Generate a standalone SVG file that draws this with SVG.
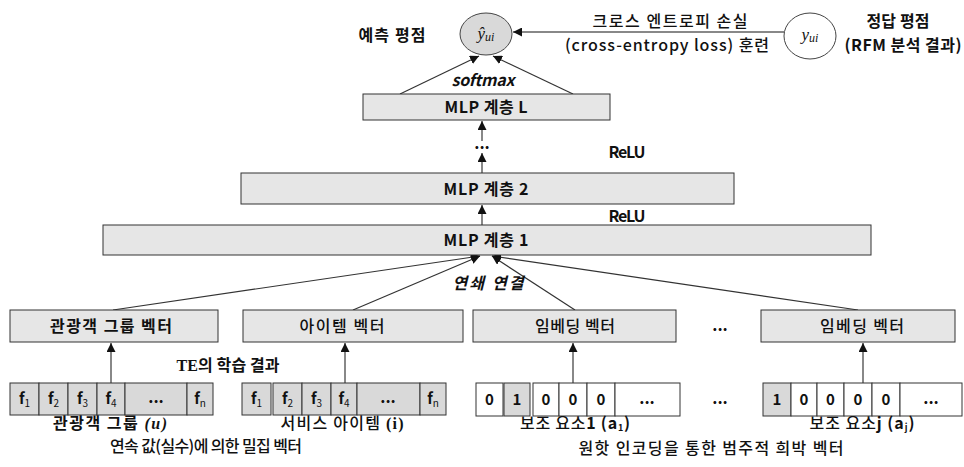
<svg xmlns="http://www.w3.org/2000/svg" width="964" height="467" viewBox="0 0 964 467">
<defs>
<style>
.t{font-family:"Noto Sans CJK KR","Noto Sans",sans-serif;fill:#111;font-size:16px}
.b{font-weight:bold}
.m{font-weight:500}
.i{font-style:italic}
.s{font-family:"Liberation Serif","Noto Sans CJK KR",serif}
.c{font-size:15px}
.box{fill:#e6e6e6;stroke:#333;stroke-width:1}
.cell{fill:#d9d9d9;stroke:#333;stroke-width:1}
.wcell{fill:#fff;stroke:#333;stroke-width:1}
.con{stroke:#333;stroke-width:1.2;fill:none}
.gcon{stroke:#888;stroke-width:2;fill:none}
</style>
<marker id="ah" markerWidth="9" markerHeight="9" refX="9" refY="4.5" orient="auto" markerUnits="userSpaceOnUse">
<path d="M0,0 L9,4.5 L0,9 z" fill="#111"/>
</marker>
</defs>
<rect width="964" height="467" fill="#fff"/>

<g id="connectors">
<line class="gcon" x1="784" y1="32" x2="513" y2="32" marker-end="url(#ah)"/>
<line class="con" x1="400" y1="94" x2="479" y2="56" marker-end="url(#ah)"/>
<line class="con" x1="573" y1="94" x2="493" y2="56" marker-end="url(#ah)"/>
<line class="gcon" x1="482" y1="141" x2="482" y2="121" marker-end="url(#ah)"/>
<line class="gcon" x1="482" y1="173" x2="482" y2="153" marker-end="url(#ah)"/>
<line class="gcon" x1="482" y1="225" x2="482" y2="205" marker-end="url(#ah)"/>
<line class="con" x1="113" y1="310" x2="480" y2="256" marker-end="url(#ah)"/>
<line class="con" x1="353" y1="310" x2="480" y2="256" marker-end="url(#ah)"/>
<line class="con" x1="575" y1="310" x2="492" y2="256" marker-end="url(#ah)"/>
<line class="con" x1="858" y1="310" x2="492" y2="256" marker-end="url(#ah)"/>
<line class="gcon" x1="111" y1="383" x2="111" y2="343" marker-end="url(#ah)"/>
<line class="gcon" x1="345" y1="383" x2="345" y2="343" marker-end="url(#ah)"/>
<line class="gcon" x1="573" y1="383" x2="573" y2="343" marker-end="url(#ah)"/>
<line class="gcon" x1="863" y1="383" x2="863" y2="343" marker-end="url(#ah)"/>
</g>

<g id="pred">
<ellipse cx="486" cy="34" rx="26" ry="21" fill="#d9d9d9" stroke="#444" stroke-width="1"/>
<text class="s i" x="486" y="39" text-anchor="middle" font-size="17" fill="#111">ŷ<tspan font-size="12" dy="2">ui</tspan></text>
</g>
<text class="t b" x="392" y="41" text-anchor="middle" textLength="67" lengthAdjust="spacing">예측 평점</text>

<g id="truth">
<ellipse cx="810" cy="36" rx="26" ry="23" fill="#fff" stroke="#444" stroke-width="1"/>
<text class="s i" x="810" y="40" text-anchor="middle" font-size="17" fill="#111">y<tspan font-size="12" dy="2">ui</tspan></text>
</g>
<text class="t b" x="898" y="27" text-anchor="middle" textLength="63" lengthAdjust="spacing">정답 평점</text>
<text class="t b" x="903" y="51" text-anchor="middle" textLength="117" lengthAdjust="spacing">(RFM 분석 결과)</text>

<text class="t m" x="670" y="27" text-anchor="middle" textLength="155" lengthAdjust="spacing">크로스 엔트로피 손실</text>
<text class="t m" x="667" y="51" text-anchor="middle" textLength="204" lengthAdjust="spacing">(cross-entropy  loss) 훈련</text>

<text class="t b i" x="483" y="86" text-anchor="middle" textLength="63" lengthAdjust="spacing">softmax</text>

<g id="mlpL">
<rect class="box" x="363" y="94" width="247" height="26"/>
<text class="t b" x="486" y="113" text-anchor="middle" font-size="17" textLength="83" lengthAdjust="spacing">MLP 계층 L</text>
</g>
<text class="t b" x="482" y="149" text-anchor="middle" font-size="11">...</text>
<text class="t b" x="627" y="158" text-anchor="middle" font-size="15" textLength="37" lengthAdjust="spacing">ReLU</text>

<g id="mlp2">
<rect class="box" x="241" y="173" width="493" height="31"/>
<text class="t b" x="486" y="195" text-anchor="middle" font-size="17" textLength="85" lengthAdjust="spacing">MLP 계층 2</text>
</g>
<text class="t b" x="627" y="222" text-anchor="middle" font-size="15" textLength="37" lengthAdjust="spacing">ReLU</text>

<g id="mlp1">
<rect class="box" x="103" y="225" width="768" height="30"/>
<text class="t b" x="486" y="246" text-anchor="middle" font-size="17" textLength="85" lengthAdjust="spacing">MLP 계층 1</text>
</g>
<text class="t b i" x="488" y="289" text-anchor="middle" textLength="71" lengthAdjust="spacing">연쇄 연결</text>

<g id="userVec">
<rect class="box" x="10" y="310" width="208" height="32"/>
<text class="t b" x="111" y="332" text-anchor="middle" textLength="122" lengthAdjust="spacing">관광객 그룹 벡터</text>
</g>
<g id="itemVec">
<rect class="box" x="243" y="310" width="220" height="32"/>
<text class="t m" x="342" y="332" text-anchor="middle" textLength="85" lengthAdjust="spacing">아이템 벡터</text>
</g>
<g id="emb1">
<rect class="box" x="473" y="310" width="203" height="32"/>
<text class="t m" x="575" y="332" text-anchor="middle" textLength="80" lengthAdjust="spacing">임베딩 벡터</text>
</g>
<text class="t b" x="720" y="331" text-anchor="middle" font-size="13">...</text>
<g id="embj">
<rect class="box" x="761" y="310" width="194" height="32"/>
<text class="t m" x="862" y="332" text-anchor="middle" textLength="84" lengthAdjust="spacing">임베딩 벡터</text>
</g>

<text class="t b" x="228" y="371" text-anchor="middle" textLength="103" lengthAdjust="spacing"><tspan class="s" font-weight="bold">TE</tspan>의 학습 결과</text>

<g id="userCells">
<rect class="cell" x="10" y="383" width="29" height="32"/>
<rect class="cell" x="39" y="383" width="29" height="32"/>
<rect class="cell" x="68" y="383" width="29" height="32"/>
<rect class="cell" x="97" y="383" width="28" height="32"/>
<rect class="cell" x="125" y="383" width="62" height="32"/>
<rect class="cell" x="187" y="383" width="26" height="32"/>
<text class="t b c" x="24.5" y="404" text-anchor="middle">f<tspan font-size="10" font-weight="normal" dy="3">1</tspan></text>
<text class="t b c" x="53.5" y="404" text-anchor="middle">f<tspan font-size="10" font-weight="normal" dy="3">2</tspan></text>
<text class="t b c" x="82.5" y="404" text-anchor="middle">f<tspan font-size="10" font-weight="normal" dy="3">3</tspan></text>
<text class="t b c" x="111" y="404" text-anchor="middle">f<tspan font-size="10" font-weight="normal" dy="3">4</tspan></text>
<text class="t b" x="156" y="403" text-anchor="middle" font-size="13">...</text>
<text class="t b c" x="200" y="404" text-anchor="middle">f<tspan font-size="10" font-weight="normal" dy="3">n</tspan></text>
</g>
<text class="t b" x="110" y="429" text-anchor="middle" textLength="114" lengthAdjust="spacing">관광객 그룹 <tspan class="s i">(u)</tspan></text>

<g id="itemCells">
<rect class="cell" x="242" y="383" width="29" height="32"/>
<rect class="cell" x="273" y="383" width="29" height="32"/>
<rect class="cell" x="302" y="383" width="29" height="32"/>
<rect class="cell" x="331" y="383" width="26" height="32"/>
<rect class="cell" x="357" y="383" width="63" height="32"/>
<rect class="cell" x="420" y="383" width="26" height="32"/>
<text class="t b c" x="256.5" y="404" text-anchor="middle">f<tspan font-size="10" font-weight="normal" dy="3">1</tspan></text>
<text class="t b c" x="287.5" y="404" text-anchor="middle">f<tspan font-size="10" font-weight="normal" dy="3">2</tspan></text>
<text class="t b c" x="316.5" y="404" text-anchor="middle">f<tspan font-size="10" font-weight="normal" dy="3">3</tspan></text>
<text class="t b c" x="344" y="404" text-anchor="middle">f<tspan font-size="10" font-weight="normal" dy="3">4</tspan></text>
<text class="t b" x="388" y="403" text-anchor="middle" font-size="13">...</text>
<text class="t b c" x="433" y="404" text-anchor="middle">f<tspan font-size="10" font-weight="normal" dy="3">n</tspan></text>
</g>
<text class="t m" x="342" y="429" text-anchor="middle" textLength="123" lengthAdjust="spacing">서비스 아이템 <tspan class="s" font-weight="bold">(i)</tspan></text>

<text class="t m" x="206" y="452" text-anchor="middle" font-size="17" textLength="192" lengthAdjust="spacing">연속 값(실수)에 의한 밀집 벡터</text>

<g id="a1Cells">
<rect class="wcell" x="476" y="383" width="27" height="33"/>
<rect class="cell" x="504" y="383" width="26" height="33"/>
<rect class="wcell" x="533" y="383" width="26" height="33"/>
<rect class="wcell" x="559" y="383" width="28" height="33"/>
<rect class="wcell" x="587" y="383" width="28" height="33"/>
<rect class="wcell" x="615" y="383" width="65" height="33"/>
<text class="t b c" x="489.5" y="405" text-anchor="middle">0</text>
<text class="t b c" x="517" y="405" text-anchor="middle">1</text>
<text class="t b c" x="546" y="405" text-anchor="middle">0</text>
<text class="t b c" x="573" y="405" text-anchor="middle">0</text>
<text class="t b c" x="601" y="405" text-anchor="middle">0</text>
<text class="t b" x="647" y="404" text-anchor="middle" font-size="13">...</text>
</g>
<text class="t m" x="575" y="429" text-anchor="middle" font-size="15" textLength="110" lengthAdjust="spacing">보조 요소<tspan font-weight="bold">1 (a<tspan font-size="9" dy="2">1</tspan><tspan dy="-2">)</tspan></tspan></text>

<text class="t b" x="720" y="404" text-anchor="middle" font-size="13">...</text>

<g id="ajCells">
<rect class="cell" x="763" y="383" width="28" height="33"/>
<rect class="wcell" x="791" y="383" width="26" height="33"/>
<rect class="wcell" x="817" y="383" width="27" height="33"/>
<rect class="wcell" x="844" y="383" width="28" height="33"/>
<rect class="wcell" x="872" y="383" width="28" height="33"/>
<rect class="wcell" x="900" y="383" width="62" height="33"/>
<text class="t b c" x="777" y="405" text-anchor="middle">1</text>
<text class="t b c" x="804" y="405" text-anchor="middle">0</text>
<text class="t b c" x="830.5" y="405" text-anchor="middle">0</text>
<text class="t b c" x="858" y="405" text-anchor="middle">0</text>
<text class="t b c" x="886" y="405" text-anchor="middle">0</text>
<text class="t b" x="931" y="404" text-anchor="middle" font-size="13">...</text>
</g>
<text class="t m" x="862" y="429" text-anchor="middle" font-size="15" textLength="105" lengthAdjust="spacing">보조 요소<tspan font-weight="bold">j (a<tspan font-size="9" dy="2">j</tspan><tspan dy="-2">)</tspan></tspan></text>

<text class="t m" x="711" y="454" text-anchor="middle" font-size="17" textLength="265" lengthAdjust="spacing">원핫 인코딩을 통한 범주적 희박 벡터</text>
</svg>
